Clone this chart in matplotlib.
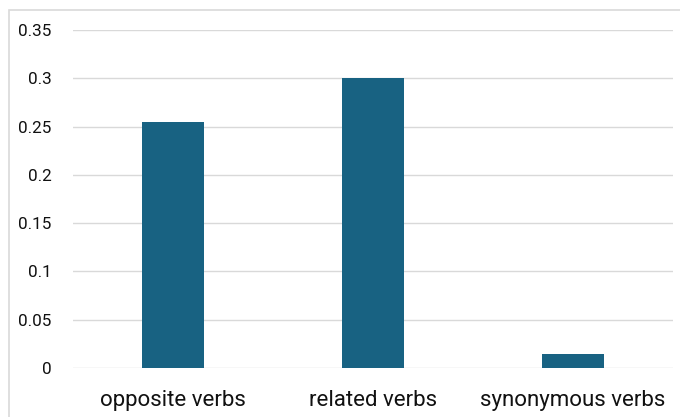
import matplotlib
matplotlib.use("Agg")
import matplotlib.pyplot as plt
from matplotlib.patches import Rectangle

categories = ["opposite verbs", "related verbs", "synonymous verbs"]
values = [0.255, 0.30, 0.015]
yticks = [0, 0.05, 0.1, 0.15, 0.2, 0.25, 0.3, 0.35]
ytick_labels = ["0", "0.05", "0.1", "0.15", "0.2", "0.25", "0.3", "0.35"]

plt.rcParams["font.family"] = ["Roboto", "DejaVu Sans"]

fig = plt.figure(figsize=(6.8, 4.17), dpi=100)
fig.patch.set_facecolor("white")
# chart area frame
fig.add_artist(Rectangle((9 / 680, -0.05), 1.0, 1 - 10 / 417 + 0.05,
                         transform=fig.transFigure, fill=False,
                         edgecolor="#d9d9d9", linewidth=1.2))

ax = fig.add_axes([73 / 680, 1 - 368 / 417, 600 / 680, 338 / 417])
x = range(len(categories))
ax.bar(x, values, width=0.31, color="#186282", zorder=3)
ax.set_xlim(-0.5, 2.5)
ax.set_ylim(0, 0.35)
ax.set_yticks(yticks)
ax.set_yticklabels(ytick_labels, fontsize=12.3, color="#111111")
ax.set_xticks(list(x))
ax.set_xticklabels(categories, fontsize=16, color="#111111")
ax.tick_params(axis="both", length=0)
ax.tick_params(axis="y", pad=15.5)
ax.tick_params(axis="x", pad=16)
ax.grid(axis="y", color="#d9d9d9", linewidth=1.0, zorder=0)
for s in ax.spines.values():
    s.set_visible(False)

fig.savefig("out.png", dpi=100)
